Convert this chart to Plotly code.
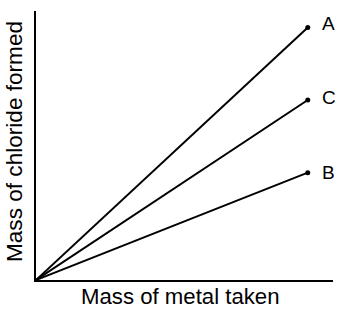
import plotly.graph_objects as go

# Data (arbitrary units)
series_names = ["A", "C", "B"]
metal_mass = [0, 9.15]
chloride_A = [0, 9.39]
chloride_C = [0, 6.69]
chloride_B = [0, 3.99]
label_yshift = [4, 3, 0]

x_title = "Mass of metal taken"
y_title = "Mass of chloride formed"

FONT = "Liberation Sans, Arial, Helvetica, sans-serif"

fig = go.Figure()
for name, ys in zip(series_names, [chloride_A, chloride_C, chloride_B]):
    fig.add_trace(go.Scatter(
        x=metal_mass, y=ys, mode="lines",
        line=dict(color="black", width=2),
        showlegend=False, hoverinfo="skip", cliponaxis=False))
    fig.add_trace(go.Scatter(
        x=[metal_mass[-1]], y=[ys[-1]], mode="markers",
        marker=dict(color="black", size=5),
        showlegend=False, hoverinfo="skip", cliponaxis=False))

for name, ys, ysh in zip(series_names, [chloride_A, chloride_C, chloride_B], label_yshift):
    fig.add_annotation(x=metal_mass[-1], y=ys[-1], xref="x", yref="y",
                       text=name, showarrow=False, xanchor="left",
                       xshift=12, yshift=ysh,
                       font=dict(family=FONT, size=19, color="black"))

fig.add_annotation(x=-0.074, y=0.513, xref="paper", yref="paper",
                   text=y_title, textangle=-90, showarrow=False,
                   xanchor="center", yanchor="middle",
                   font=dict(family=FONT, size=22.6, color="black"))
fig.add_annotation(x=0.485, y=-0.06, xref="paper", yref="paper",
                   text=x_title, showarrow=False, borderpad=0,
                   xanchor="center", yanchor="middle",
                   font=dict(family=FONT, size=22.2, color="black"))

fig.update_xaxes(range=[0, 10], showline=True, linecolor="black", linewidth=2,
                 showgrid=False, zeroline=False, showticklabels=False, ticks="")
fig.update_yaxes(range=[0, 10], showline=True, linecolor="black", linewidth=2,
                 showgrid=False, zeroline=False, showticklabels=False, ticks="")

fig.update_layout(width=339, height=309,
                  margin=dict(l=36, r=6, t=11, b=29),
                  paper_bgcolor="white", plot_bgcolor="white",
                  font=dict(family=FONT, color="black"))

fig.write_html("out.html", config={"displayModeBar": False},
               post_script="document.body.style.margin='0';document.body.style.overflow='hidden';")
